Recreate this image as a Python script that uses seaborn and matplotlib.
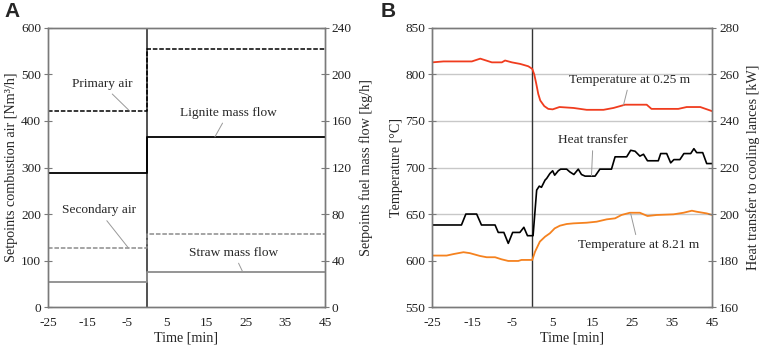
import numpy as np
import pandas as pd
import matplotlib
matplotlib.use("Agg")
import matplotlib.pyplot as plt
import seaborn as sns

# ---------------- Data ----------------
# Panel A: setpoints (step changes at t = 0)
step_time = [-25, 0, 45]
primary_air = [422, 555, 555]        # Nm3/h (left axis)
secondary_air = [127, 157, 157]      # Nm3/h (left axis)
lignite_flow = [115, 146, 146]       # kg/h (right axis)
straw_flow = [22, 30.5, 30.5]        # kg/h (right axis)

# Panel B: temperature at 0.25 m
t_025 = [-25, -22.2, -15.1, -13, -10.1, -7.6, -6.8, -5.1, -3, -1, 0, 0.5, 1.0, 1.5,
         2.0, 3.0, 4.0, 5.1, 6.8, 10.3, 13.6, 17.8, 20.3, 23.2, 28.6, 29.8, 36.5,
         38.6, 42, 45]
T_025 = [813, 814, 814, 817, 813, 813, 815, 813, 811.3, 808.8, 806, 800, 790, 779,
         772, 766, 763, 762.5, 765, 764, 762, 762, 764, 767.5, 767.5, 763, 763,
         765, 765, 760.5]

# Panel B: heat transfer to cooling lances (kW)
t_q = [-25, -17.7, -16.6, -13.9, -12.7, -9.3, -8.5, -7.1, -6, -4.9, -3.1, -2.1, -1.2,
       0.2, 1.1, 1.75, 2.3, 3.2, 3.6, 4.4, 5.1, 5.6, 6.5, 7.1, 8.6, 9.4, 10.4, 11.5,
       12.3, 13.2, 15.7, 16.9, 19.8, 20.7, 23.6, 24.6, 25.7, 26.9, 27.8, 28.8, 31.5,
       32.1, 33.6, 34.6, 35.4, 36.9, 37.9, 39.6, 40.4, 41.1, 42.6, 43.6, 45]
Q = [195.3, 195.3, 200, 200, 195.3, 195.3, 192.1, 192.1, 187.4, 192.1, 192.1, 194.3,
     190.7, 190.7, 210.3, 212, 211.5, 214.6, 215.3, 217.4, 218.6, 216.7, 218.6, 219.3,
     219.3, 218.1, 217, 219.3, 217, 216.3, 216.3, 219.3, 219.3, 224.6, 224.6, 227.4,
     227, 224.9, 225.7, 222.9, 222.9, 226, 226, 222, 223.4, 223.4, 226, 226, 228.1,
     226.4, 226.4, 221.7, 221.7]

# Panel B: temperature at 8.21 m
t_821 = [-25, -21.4, -19.7, -17.2, -15.6, -13.1, -11.4, -9.3, -7.7, -6, -3.5, -2.7, 0,
         0.7, 1.9, 3.2, 4.4, 5.6, 6.9, 8.6, 10.3, 13.6, 16.1, 18.6, 20.7, 22.3, 24.4,
         26.9, 28.8, 31.1, 35.3, 37.8, 39.9, 41.1, 43.6, 45]
T_821 = [605.4, 605.4, 607, 609, 608, 605, 603.6, 603.6, 601.4, 599.6, 599.6, 600.7,
         600.7, 609.6, 620.4, 625.7, 629.3, 634.6, 637.5, 639.3, 640, 640.7, 641.8,
         644.3, 645.4, 649, 651.4, 651.4, 647.9, 649, 649.7, 651.4, 653.6, 652.5,
         650.7, 649]

x_ticks = [-25, -15, -5, 5, 15, 25, 35, 45]
x_minor = [-20, -10, 0, 10, 20, 30, 40]

# ---------------- Style ----------------
sns.set_theme(style="white")
plt.rcParams['font.family'] = ['Liberation Serif', 'DejaVu Serif']
plt.rcParams['font.size'] = 9.5

SPINE = '#7a7a7a'
RED = '#f03c1e'
ORANGE = '#f5821f'
GRAYLINE = '#8c8c8c'
TICKFS = 9.6
LABFS = 10.2
ANNFS = 9.6

fig = plt.figure(figsize=(7.61, 3.49), dpi=100)
axA = fig.add_axes([0.063, 0.120, 0.364, 0.800])
axA2 = axA.twinx()
axB = fig.add_axes([0.568, 0.120, 0.368, 0.800])
axB2 = axB.twinx()


def style_axes(ax, ax2):
    for a in (ax, ax2):
        for s in a.spines.values():
            s.set_color(SPINE)
            s.set_linewidth(1.0)
        a.tick_params(axis='y', direction='inout', length=6, width=0.8,
                      colors=SPINE, labelcolor='#222222', labelsize=TICKFS, pad=2)
    ax.tick_params(axis='x', which='both', direction='in', length=4, width=0.8,
                   colors=SPINE, labelcolor='#222222', labelsize=TICKFS, pad=7)
    ax.set_xlim(-25, 45)
    ax.set_xticks(x_ticks)
    ax.set_xticks(x_minor, minor=True)
    ax.set_xticklabels([str(v) for v in x_ticks])
    ax.set_xlabel('Time [min]', fontsize=LABFS, labelpad=2)
    ax2.set_xlim(-25, 45)


# ---------------- Panel A ----------------
dfA_air = pd.DataFrame({'t': step_time * 2,
                        'v': primary_air + secondary_air,
                        's': ['Primary air'] * 3 + ['Secondary air'] * 3})
dfA_fuel = pd.DataFrame({'t': step_time * 2,
                         'v': lignite_flow + straw_flow,
                         's': ['Lignite'] * 3 + ['Straw'] * 3})

sns.lineplot(data=dfA_air, x='t', y='v', hue='s', style='s',
             palette={'Primary air': 'black', 'Secondary air': GRAYLINE},
             dashes={'Primary air': (3, 1.2), 'Secondary air': (3, 1.2)},
             drawstyle='steps-post', lw=1.1, legend=False, ax=axA)
sns.lineplot(data=dfA_fuel, x='t', y='v', hue='s',
             palette={'Lignite': 'black', 'Straw': GRAYLINE},
             drawstyle='steps-post', lw=1.3, legend=False, ax=axA2)
axA.axvline(0, color='#333333', lw=1.2, zorder=1)

axA.set_ylim(0, 600)
axA.set_yticks(range(0, 601, 100))
axA2.set_ylim(0, 240)
axA2.set_yticks(range(0, 241, 40))
axA.set_ylabel('Setpoints combustion air [Nm³/h]', fontsize=LABFS, labelpad=2)
axA2.set_ylabel('Setpoints fuel mass flow [kg/h]', fontsize=LABFS, labelpad=5)
style_axes(axA, axA2)
axA.grid(False); axA2.grid(False)

lead = dict(arrowstyle='-', color='#999999', lw=0.7, shrinkA=1, shrinkB=0)
axA2.annotate('Primary air', xy=(-4.65, 424), xycoords=axA.transData,
              xytext=(-11.4, 480), textcoords=axA.transData,
              ha='center', va='center', fontsize=ANNFS, arrowprops=lead)
axA2.annotate('Lignite mass flow', xy=(17.2, 366), xycoords=axA.transData,
              xytext=(20.6, 418), textcoords=axA.transData,
              ha='center', va='center', fontsize=ANNFS, arrowprops=lead)
axA2.annotate('Secondary air', xy=(-4.65, 127), xycoords=axA.transData,
              xytext=(-12.2, 208), textcoords=axA.transData,
              ha='center', va='center', fontsize=ANNFS, arrowprops=lead)
axA2.annotate('Straw mass flow', xy=(24.2, 76), xycoords=axA.transData,
              xytext=(21.9, 117), textcoords=axA.transData,
              ha='center', va='center', fontsize=ANNFS, arrowprops=lead)

# ---------------- Panel B ----------------
df025 = pd.DataFrame({'t': t_025, 'T': T_025})
df821 = pd.DataFrame({'t': t_821, 'T': T_821})
dfQ = pd.DataFrame({'t': t_q, 'Q': Q})

for yv in [650, 700, 750, 800]:
    axB.axhline(yv, color='#c8c8c8', lw=1.0, zorder=0)
axB.axvline(0, color='#333333', lw=1.0, zorder=1)

sns.lineplot(data=df025, x='t', y='T', color=RED, lw=1.3, ax=axB)
sns.lineplot(data=df821, x='t', y='T', color=ORANGE, lw=1.3, ax=axB)
sns.lineplot(data=dfQ, x='t', y='Q', color='black', lw=1.2, ax=axB2)

axB.set_ylim(550, 850)
axB.set_yticks(range(550, 851, 50))
axB2.set_ylim(160, 280)
axB2.set_yticks(range(160, 281, 20))
axB.set_ylabel('Temperature [°C]', fontsize=LABFS, labelpad=2)
axB2.set_ylabel('Heat transfer to cooling lances [kW]', fontsize=LABFS, labelpad=5)
style_axes(axB, axB2)
axB.grid(False); axB2.grid(False)

axB2.annotate('Temperature at 0.25 m', xy=(22.8, 767), xycoords=axB.transData,
              xytext=(24.4, 794.5), textcoords=axB.transData,
              ha='center', va='center', fontsize=ANNFS, arrowprops=lead)
axB2.annotate('Heat transfer', xy=(14.8, 691), xycoords=axB.transData,
              xytext=(15.2, 729.5), textcoords=axB.transData,
              ha='center', va='center', fontsize=ANNFS, arrowprops=lead)
axB2.annotate('Temperature at 8.21 m', xy=(24.6, 650.5), xycoords=axB.transData,
              xytext=(26.5, 616.5), textcoords=axB.transData,
              ha='center', va='center', fontsize=ANNFS, arrowprops=lead)

# Panel letters
fig.text(0.006, 0.995, 'A', family=['Liberation Sans', 'DejaVu Sans'],
         fontweight='bold', fontsize=15, ha='left', va='top')
fig.text(0.500, 0.995, 'B', family=['Liberation Sans', 'DejaVu Sans'],
         fontweight='bold', fontsize=15, ha='left', va='top')

fig.savefig('out.png', dpi=100)
